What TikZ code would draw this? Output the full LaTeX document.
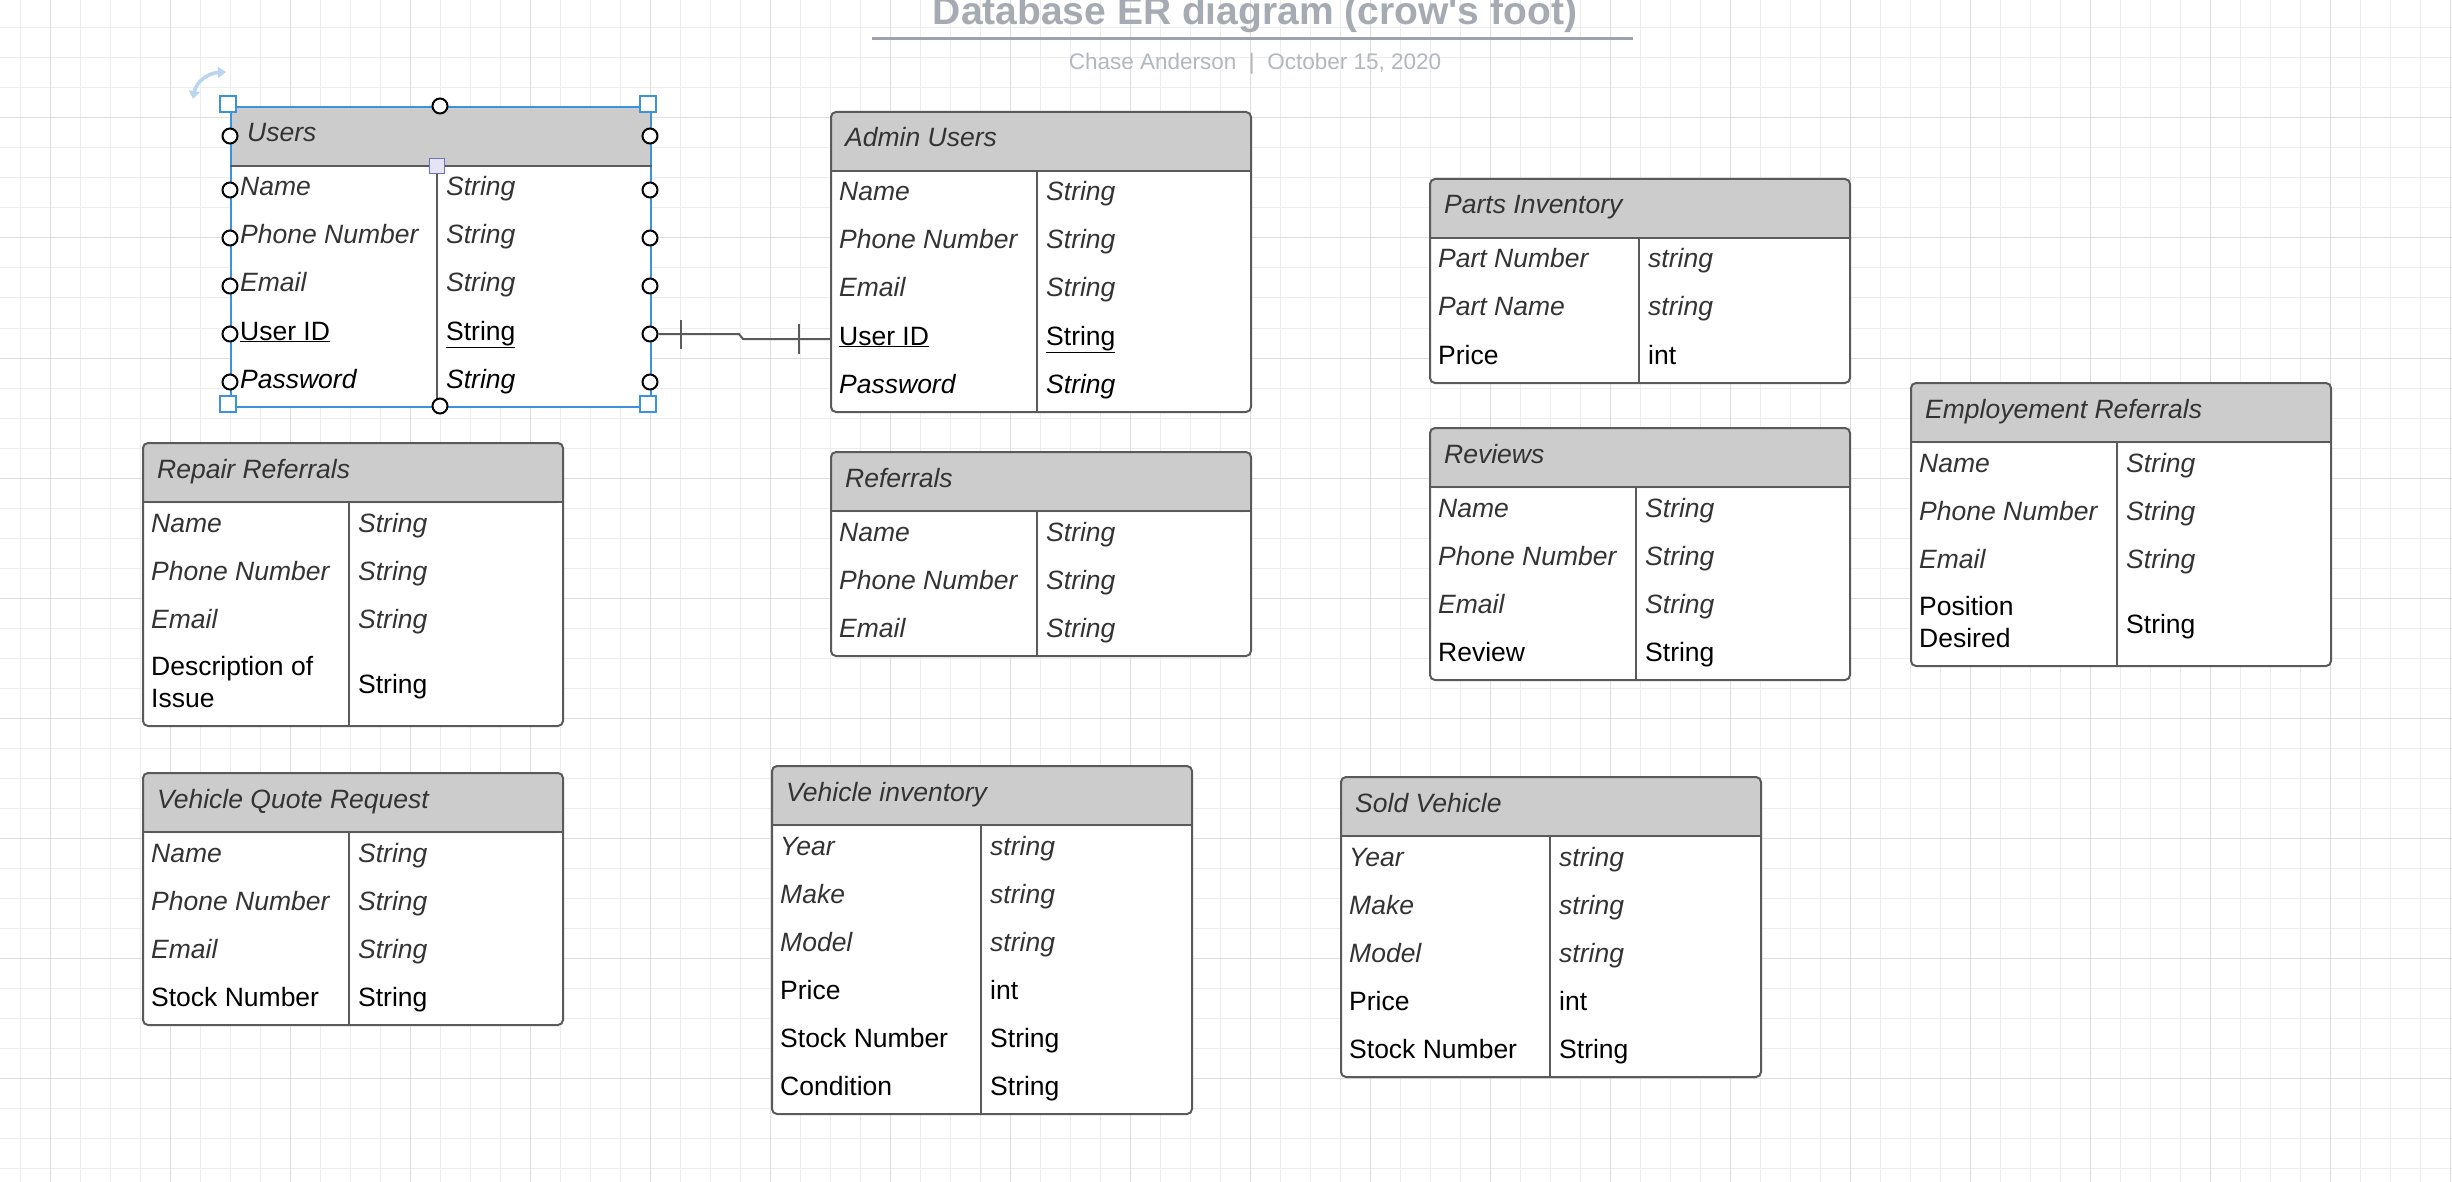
\documentclass[tikz,border=0pt]{standalone}
\usepackage{fontspec}
\setmainfont{Liberation Sans}
\newfontfamily\titlefont[Ligatures=TeXOff]{Liberation Sans}
\usetikzlibrary{arrows.meta}
\definecolor{tborder}{HTML}{5A5A5A}
\definecolor{thead}{HTML}{CCCCCC}
\definecolor{tgrey}{HTML}{333333}
\definecolor{selblue}{HTML}{3D93DB}
\definecolor{gridmin}{HTML}{EDEDED}
\definecolor{gridmaj}{HTML}{DEDEDE}
\definecolor{titlegrey}{HTML}{A6ABB3}
\definecolor{subgrey}{HTML}{B3B7BE}
\definecolor{rotblue}{HTML}{BAD5F0}
\definecolor{midfill}{HTML}{E4E4F4}
\definecolor{midline}{HTML}{7070C0}
\newcommand{\erf}{\fontsize{26.5}{32}\selectfont}

\begin{document}
\begin{tikzpicture}[x=1pt, y=-1pt,
    tbl/.style={draw=tborder, line width=2pt, rounded corners=5pt, fill=white, anchor=north west,
        minimum width=420pt, inner sep=0pt,
        path picture={\fill[thead] (path picture bounding box.north west) rectangle ([yshift=-60pt]path picture bounding box.north east);}},
    tline/.style={draw=tborder, line width=2pt},
    hd/.style={anchor=base west, inner sep=0pt, text=tgrey, font=\erf\itshape},
    fld/.style={anchor=base west, inner sep=0pt, text=tgrey, font=\erf\itshape},
    fldk/.style={fld, text=black},
    fldn/.style={anchor=base west, inner sep=0pt, text=black, font=\erf},
    hnd/.style={circle, draw=black, fill=white, line width=2pt, minimum size=15pt, inner sep=0pt},
    crn/.style={draw=selblue, fill=white, line width=2pt, minimum size=16pt, inner sep=0pt},
    mid/.style={draw=midline, fill=midfill, line width=1.5pt, minimum size=15pt, inner sep=0pt},
    conn/.style={draw=tborder, line width=2pt}
]
\useasboundingbox[fill=white] (0,0) rectangle (2452,1182);
% grid
\foreach \x in {20,50,...,2452} \draw[gridmin, line width=1pt] (\x,0) -- (\x,1182);
\foreach \y in {28,58,...,1182} \draw[gridmin, line width=1pt] (0,\y) -- (2452,\y);
\foreach \x in {50,170,...,2452} \draw[gridmaj, line width=1pt] (\x,0) -- (\x,1182);
\foreach \y in {118,238,...,1182} \draw[gridmaj, line width=1pt] (0,\y) -- (2452,\y);

% title block
\node[anchor=base, inner sep=0pt, text=titlegrey, font=\titlefont\bfseries\fontsize{39}{44}\selectfont] (title) at (1255,25) {Database ER diagram (crow's foot)};
\draw[titlegrey!95!black, line width=3pt] (872,39) -- (1633,39);
\node[anchor=base, inner sep=0pt, text=subgrey, font=\titlefont\fontsize{22.5}{27}\selectfont] (sub) at (1255,70) {Chase Anderson\ \ |\ \ October 15, 2020};

% tables
\node[tbl, draw=selblue, sharp corners, minimum height=300pt] (users) at (230,106) {};
\node[tbl, minimum height=300pt] (admin) at (830,111) {};
\node[tbl, minimum height=204pt] (parts) at (1429,178) {};
\node[tbl, minimum height=252pt] (reviews) at (1429,427) {};
\node[tbl, minimum height=283pt] (empref) at (1910,382) {};
\node[tbl, minimum height=283pt] (repair) at (142,442) {};
\node[tbl, minimum height=204pt] (referrals) at (830,451) {};
\node[tbl, minimum height=252pt] (quote) at (142,772) {};
\node[tbl, minimum height=348pt] (vehinv) at (771,765) {};
\node[tbl, minimum height=300pt] (sold) at (1340,776) {};

\foreach \n/\d in {users/207, admin/207, parts/210, reviews/207, empref/207, repair/207, referrals/207, quote/207, vehinv/210, sold/210} {
  \draw[tline] ([yshift=-60pt]\n.north west) -- ([yshift=-60pt]\n.north east);
  \draw[tline] ([xshift=\d pt,yshift=-60pt]\n.north west) -- ([xshift=\d pt]\n.south west);
}

% headers
\node[hd] (users-h) at ([xshift=17pt,yshift=-36pt]users.north west) {Users};
\foreach \n/\h in {admin/Admin Users, parts/Parts Inventory, reviews/Reviews, empref/Employement Referrals, repair/Repair Referrals, referrals/Referrals, quote/Vehicle Quote Request, vehinv/Vehicle inventory, sold/Sold Vehicle}
  \node[hd] (\n-h) at ([xshift=15pt,yshift=-36pt]\n.north west) {\h};

% rows
\foreach \s/\f/\t [count=\i] in {fld/Name/String, fld/Phone Number/String, fld/Email/String, fldn/\underline{User ID}/\underline{String}, fldk/Password/String} {
  \node[\s] (users-f\i) at ([xshift=10pt,yshift={-42pt-48pt*\i}]users.north west) {\f};
  \node[\s] (users-t\i) at ([xshift=216pt,yshift={-42pt-48pt*\i}]users.north west) {\t};
  \node[\s] (admin-f\i) at ([xshift=9pt,yshift={-42pt-48pt*\i}]admin.north west) {\f};
  \node[\s] (admin-t\i) at ([xshift=216pt,yshift={-42pt-48pt*\i}]admin.north west) {\t};
}
\foreach \s/\f/\t [count=\i] in {fld/Part Number/string, fld/Part Name/string, fldn/Price/int} {
  \node[\s] (parts-f\i) at ([xshift=9pt,yshift={-42pt-48pt*\i}]parts.north west) {\f};
  \node[\s] (parts-t\i) at ([xshift=219pt,yshift={-42pt-48pt*\i}]parts.north west) {\t};
}
\foreach \s/\f/\t [count=\i] in {fld/Name/String, fld/Phone Number/String, fld/Email/String, fldn/Review/String} {
  \node[\s] (reviews-f\i) at ([xshift=9pt,yshift={-42pt-48pt*\i}]reviews.north west) {\f};
  \node[\s] (reviews-t\i) at ([xshift=216pt,yshift={-42pt-48pt*\i}]reviews.north west) {\t};
}
\foreach \s/\f/\t [count=\i] in {fld/Name/String, fld/Phone Number/String, fld/Email/String, fldn/Stock Number/String} {
  \node[\s] (quote-f\i) at ([xshift=9pt,yshift={-42pt-48pt*\i}]quote.north west) {\f};
  \node[\s] (quote-t\i) at ([xshift=216pt,yshift={-42pt-48pt*\i}]quote.north west) {\t};
}
\foreach \n in {empref, repair, referrals}
  \foreach \f [count=\i] in {Name, Phone Number, Email} {
    \node[fld] (\n-f\i) at ([xshift=9pt,yshift={-42pt-48pt*\i}]\n.north west) {\f};
    \node[fld] (\n-t\i) at ([xshift=216pt,yshift={-42pt-48pt*\i}]\n.north west) {String};
  }
\node[fldn, align=left] (empref-f4) at ([xshift=9pt,yshift=-265pt]empref.north west) {Position\\Desired};
\node[fldn] (empref-t4) at ([xshift=216pt,yshift=-251pt]empref.north west) {String};
\node[fldn, align=left] (repair-f4) at ([xshift=9pt,yshift=-265pt]repair.north west) {Description of\\Issue};
\node[fldn] (repair-t4) at ([xshift=216pt,yshift=-251pt]repair.north west) {String};
\foreach \s/\f/\t [count=\i] in {fld/Year/string, fld/Make/string, fld/Model/string, fldn/Price/int, fldn/Stock Number/String, fldn/Condition/String} {
  \node[\s] (vehinv-f\i) at ([xshift=9pt,yshift={-42pt-48pt*\i}]vehinv.north west) {\f};
  \node[\s] (vehinv-t\i) at ([xshift=219pt,yshift={-42pt-48pt*\i}]vehinv.north west) {\t};
  \ifnum\i<6
    \node[\s] (sold-f\i) at ([xshift=9pt,yshift={-42pt-48pt*\i}]sold.north west) {\f};
    \node[\s] (sold-t\i) at ([xshift=219pt,yshift={-42pt-48pt*\i}]sold.north west) {\t};
  \fi
}

% selection handles on Users
\draw[rotblue, line width=3.5pt, {Triangle[length=8pt,width=11pt]}-{Triangle[length=8pt,width=11pt]}] (193,99) .. controls (196,82) and (208,73) .. (226,72);
\foreach \y [count=\i] in {136,190,238,286,334,382} {
  \node[hnd] (hl\i) at (230,\y) {};
  \node[hnd] (hr\i) at (650,\y) {};
}
\node[hnd] (ht) at (440,106) {};
\node[hnd] (hb) at (440,406) {};
\node[crn] (cnw) at (228,104) {};
\node[crn] (cne) at (648,104) {};
\node[crn] (csw) at (228,404) {};
\node[crn] (cse) at (648,404) {};
\node[mid] (hmid) at ([xshift=207pt,yshift=-60pt]users.north west) {};

% one-to-one link
\coordinate (admin-in) at ([yshift=-228pt]admin.north west);
\draw[conn] (hr5) -- ++(89,0) -- ++(4,5) -- (admin-in);
\draw[conn] ([xshift=31pt]hr5.center) ++(0,-14) -- ++(0,29);
\draw[conn] ([xshift=-31pt]admin-in) ++(0,-15) -- ++(0,30);
\end{tikzpicture}
\end{document}
